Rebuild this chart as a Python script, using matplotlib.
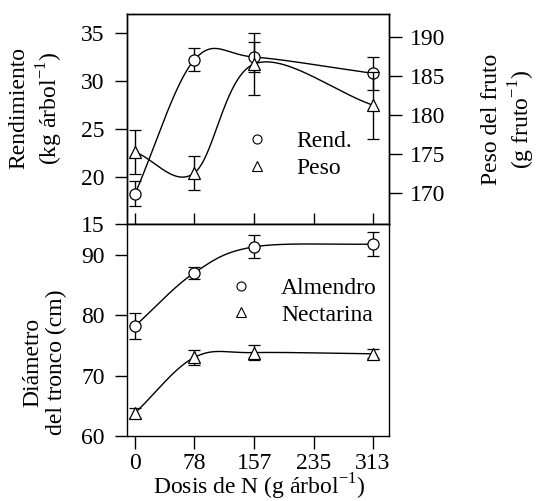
import numpy as np
import matplotlib
matplotlib.use("Agg")
import matplotlib.pyplot as plt
from matplotlib.lines import Line2D

plt.rcParams['font.family'] = ['Liberation Serif', 'DejaVu Serif']
plt.rcParams['mathtext.fontset'] = 'custom'
plt.rcParams['mathtext.rm'] = 'Liberation Serif'
plt.rcParams['font.size'] = 17

# dosis de N (g arbol-1)
dosis = [0, 78, 157, 313]
xticks = [0, 78, 157, 235, 313]

# panel superior
rend = [18.2, 32.2, 32.5, 30.8]
rend_err = [1.3, 1.2, 1.6, 1.7]
peso = [175.3, 172.6, 186.6, 181.3]
peso_err = [2.8, 2.2, 4.0, 4.3]

# panel inferior
almendro = [78.2, 87.0, 91.3, 91.75]
almendro_err = [2.1, 1.0, 1.9, 2.0]
nectarina = [63.8, 73.0, 73.8, 73.6]
nectarina_err = [0.9, 1.3, 1.2, 0.75]


def curva(x, y, n=80):
    # spline de Catmull-Rom por los puntos
    P = np.column_stack([x, y]).astype(float)
    E = np.vstack([2 * P[0] - P[1], P, 2 * P[-1] - P[-2]])
    t = np.linspace(0, 1, n)[:, None]
    h00 = 2 * t**3 - 3 * t**2 + 1
    h10 = t**3 - 2 * t**2 + t
    h01 = -2 * t**3 + 3 * t**2
    h11 = t**3 - t**2
    out = []
    for i in range(len(P) - 1):
        p0, p1, p2, p3 = E[i], E[i + 1], E[i + 2], E[i + 3]
        m1 = (p2 - p0) / 2
        m2 = (p3 - p1) / 2
        out.append(h00 * p1 + h10 * m1 + h01 * p2 + h11 * m2)
    c = np.vstack(out)
    return c[:, 0], c[:, 1]


lw = 1.0
mk = dict(ms=8, mfc='white', mec='black', mew=0.9, ls='none',
          ecolor='black', elinewidth=1.0, capsize=4.5, capthick=1.0)

fig = plt.figure(figsize=(5.39, 5.01), dpi=100)
ax1 = fig.add_axes([0.2356, 0.552, 0.486, 0.420])
ax3 = fig.add_axes([0.2356, 0.1297, 0.486, 0.4223])
ax2 = ax1.twinx()

ax1.plot(*curva(dosis, rend), color='black', lw=lw)
ax1.errorbar(dosis, rend, yerr=rend_err, marker='o', zorder=5, **mk)
ax2.plot(*curva(dosis, peso), color='black', lw=lw)
ax2.errorbar(dosis, peso, yerr=peso_err, marker='^', zorder=5, **mk)

ax3.plot(*curva(dosis, almendro), color='black', lw=lw)
ax3.errorbar(dosis, almendro, yerr=almendro_err, marker='o', zorder=5, **mk)
ax3.plot(*curva(dosis, nectarina), color='black', lw=lw)
ax3.errorbar(dosis, nectarina, yerr=nectarina_err, marker='^', zorder=5, **mk)

for ax in (ax1, ax2, ax3):
    ax.set_xlim(-10.5, 334)
    for s in ax.spines.values():
        s.set_linewidth(1.0)

ax1.set_ylim(15, 37)
ax1.set_yticks([15, 20, 25, 30, 35])
ax2.set_ylim(166, 193)
ax2.set_yticks([170, 175, 180, 185, 190])
ax3.set_ylim(60, 95)
ax3.set_yticks([60, 70, 80, 90])

ax1.set_xticks(xticks)
ax1.tick_params(axis='x', direction='in', length=8, labelbottom=False, width=1)
ax1.tick_params(axis='y', direction='out', length=9, width=1, pad=7)
ax2.tick_params(axis='y', direction='out', length=9, width=1, pad=6)
ax3.set_xticks(xticks)
ax3.set_xticklabels([str(v) for v in xticks])
ax3.tick_params(axis='y', direction='out', length=9, width=1, pad=7)
ax3.tick_params(axis='x', direction='out', length=9, width=1, pad=3)

fig.text(0.068, 0.784, 'Rendimiento\n(kg árbol$^{\\mathregular{-1}}$)',
         rotation=90, ha='center', va='center', multialignment='center')
fig.text(0.945, 0.762, 'Peso del fruto\n(g fruto$^{\\mathregular{-1}}$)',
         rotation=90, ha='center', va='center', multialignment='center')
fig.text(0.083, 0.277, 'Diámetro\ndel tronco (cm)',
         rotation=90, ha='center', va='center', multialignment='center')
fig.text(0.481, 0.028, 'Dosis de N (g árbol$^{\\mathregular{-1}}$)',
         ha='center', va='center')

h1 = [Line2D([], [], marker='o', ls='none', mfc='white', mec='black', ms=6.5, mew=0.8),
      Line2D([], [], marker='^', ls='none', mfc='white', mec='black', ms=6.5, mew=0.8)]
ax1.legend(h1, ['Rend.', 'Peso'], loc='center left', bbox_to_anchor=(0.45, 0.33),
           frameon=False, handlelength=1.0, handletextpad=1.2, labelspacing=0.25,
           borderpad=0, borderaxespad=0)
ax3.legend(h1, ['Almendro', 'Nectarina'], loc='center left', bbox_to_anchor=(0.39, 0.635),
           frameon=False, handlelength=1.0, handletextpad=1.2, labelspacing=0.2,
           borderpad=0, borderaxespad=0)

fig.savefig('out.png', dpi=100)
